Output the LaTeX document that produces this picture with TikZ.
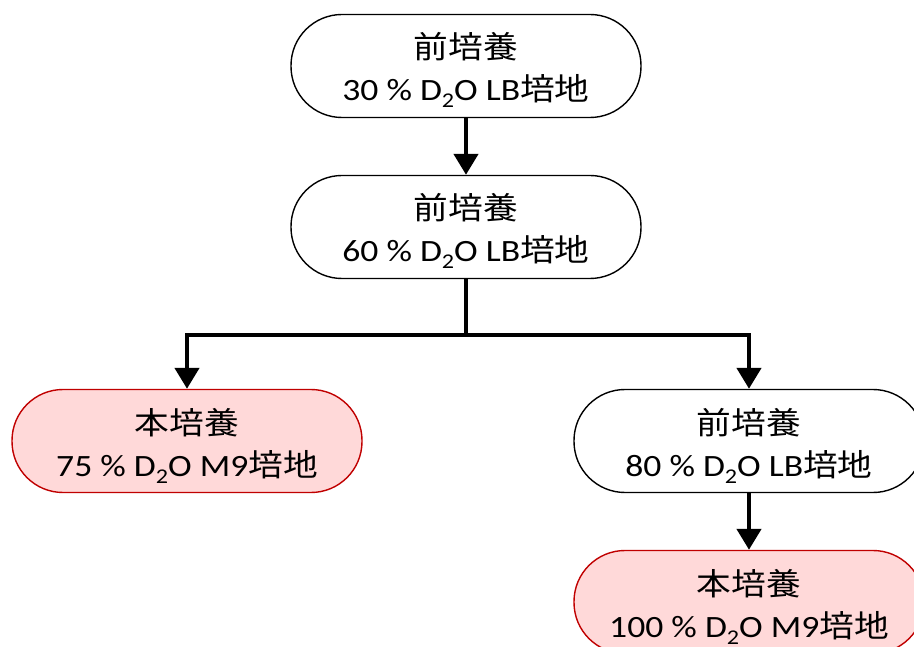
\documentclass[tikz,border=0pt]{standalone}
\usepackage{fontspec}
\setmainfont{Carlito}[FakeStretch=1.15]
\newfontfamily\jp{Noto Sans CJK JP}[FakeStretch=1.12]
\usetikzlibrary{arrows.meta}
\definecolor{pinkfill}{HTML}{FFD9D9}
\definecolor{redline}{HTML}{C00000}
\newcommand\dtwoo{D\raisebox{-7pt}{\fontsize{21}{21}\selectfont 2}O}
\newcommand\twoline[2]{{\jp\rule{0pt}{35pt}#1}\\#2}
\begin{document}
\begin{tikzpicture}[x=1pt,y=-1pt]
\useasboundingbox (0,0) rectangle (914,647);
\tikzset{
 stepwhite/.style={draw=black, line width=1.4pt, fill=white, rounded corners=51pt,
   minimum width=350pt, minimum height=103pt, inner sep=0pt, align=center,
   font=\fontsize{31}{42}\selectfont},
 stepred/.style={stepwhite, draw=redline, fill=pinkfill},
 conn/.style={line width=4.5pt, -{Triangle[length=21pt,width=24pt]}}
}
\node[stepwhite] (a) at (466,66) {\twoline{前培養}{30 \% \dtwoo{} LB{\jp 培地}}};
\node[stepwhite] (b) at (466,227) {\twoline{前培養}{60 \% \dtwoo{} LB{\jp 培地}}};
\node[stepred] (c) at (187,441) {\twoline{本培養}{75 \% \dtwoo{} M9{\jp 培地}}};
\node[stepwhite] (d) at (749,441) {\twoline{前培養}{80 \% \dtwoo{} LB{\jp 培地}}};
\node[stepred] (e) at (749,602) {\twoline{本培養}{100 \% \dtwoo{} M9{\jp 培地}}};
\coordinate (j) at (466,335);
\draw[conn] (a) -- (b);
\draw[line width=4.5pt] (b.south) -- (j);
\draw[conn] (j) -| (c.north);
\draw[conn] (j) -| (d.north);
\draw[conn] (d) -- (e);
\end{tikzpicture}
\end{document}
